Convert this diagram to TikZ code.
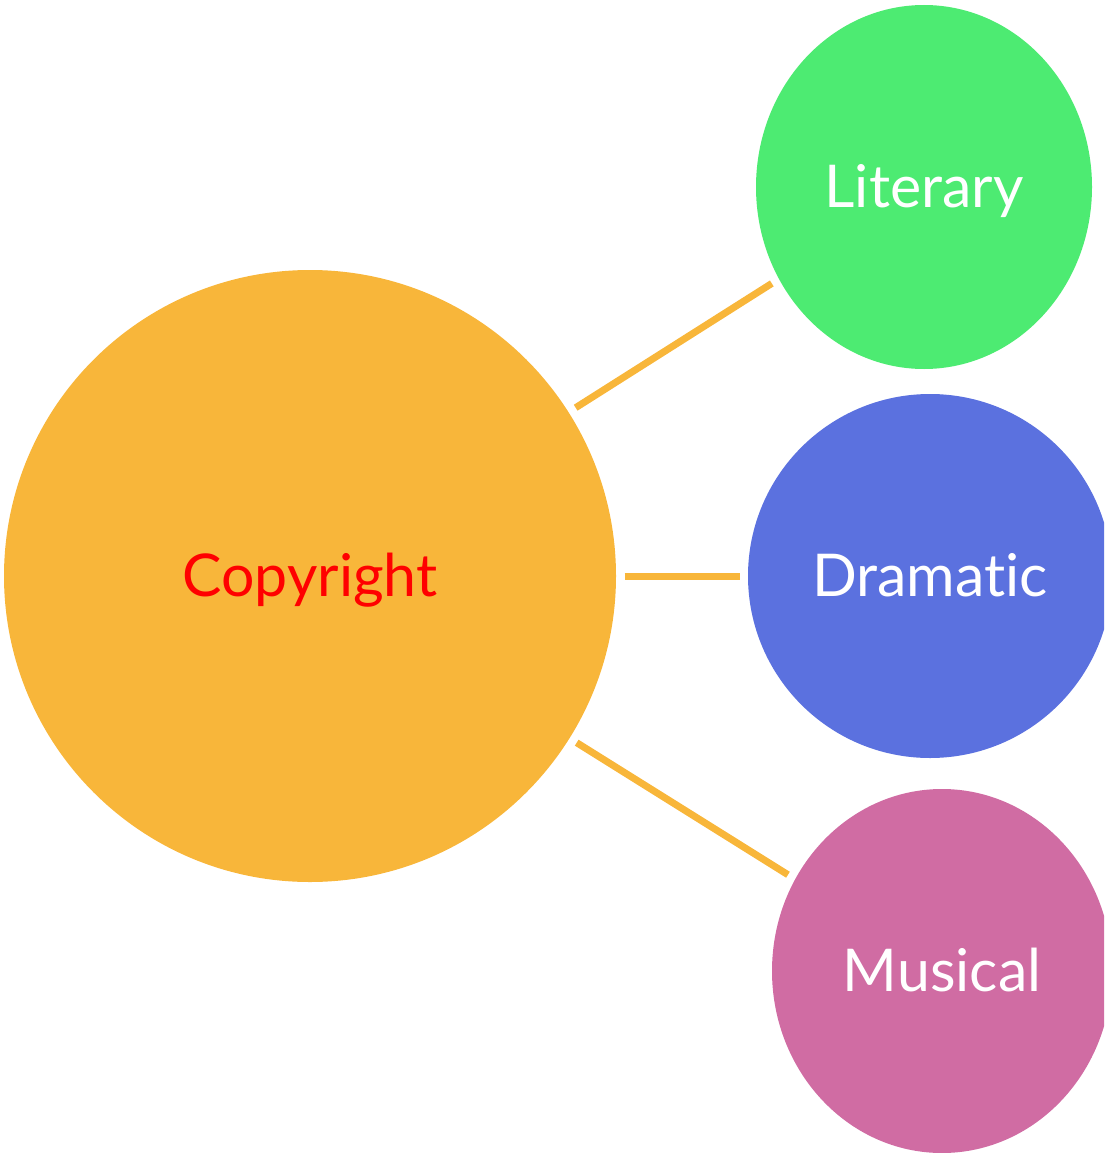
\documentclass[tikz,border=0pt]{standalone}
\usepackage{fontspec}
\setmainfont{Lato}[Ligatures=NoCommon]
\usetikzlibrary{shapes.geometric}
\definecolor{corange}{HTML}{F8B63A}
\definecolor{cgreen}{HTML}{4DEB72}
\definecolor{cblue}{HTML}{5B71DF}
\definecolor{cpink}{HTML}{D06CA3}
\begin{document}
\begin{tikzpicture}[x=1pt,y=-1pt,
  bubble/.style={ellipse, inner sep=0pt, outer sep=8.5pt, text=white,
    text height=40pt, text depth=0pt,
    font=\fontsize{59}{64}\selectfont},
  link/.style={draw=corange, line width=7pt}]
\useasboundingbox (0,0) rectangle (1104,1153);
\clip (0,0) rectangle (1104,1153);
\node[bubble, fill=corange, minimum width=612pt, minimum height=612pt, text=red] (cop) at (310,576) {Copyright};
\node[bubble, fill=cgreen, minimum width=336pt, minimum height=364pt] (lit) at (924,187) {Literary};
\node[bubble, fill=cblue, minimum width=364pt, minimum height=364pt] (dra) at (930,576) {Dramatic};
\node[bubble, fill=cpink, minimum width=340pt, minimum height=364pt] (mus) at (942,971) {Musical};
\draw[link] (cop) -- (lit);
\draw[link] (cop) -- (dra);
\draw[link] (cop) -- (mus);
\end{tikzpicture}
\end{document}
